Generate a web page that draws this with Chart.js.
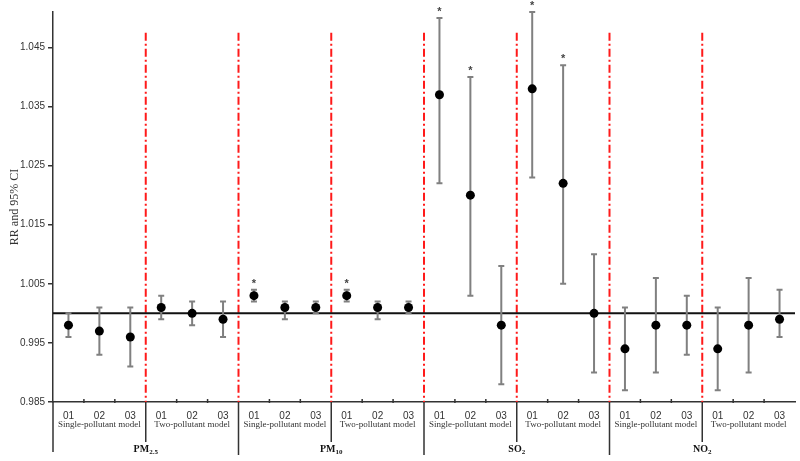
<!DOCTYPE html>
<html>
<head>
<meta charset="utf-8">
<script src="https://cdn.jsdelivr.net/npm/chart.js@4/dist/chart.umd.min.js"></script>
<style>
  html, body { margin: 0; padding: 0; background: #fff; }
  #wrap { width: 800px; height: 461px; }
</style>
</head>
<body>
<div id="wrap"><canvas id="rrChart" width="800" height="461"></canvas></div>
<script>
// lag labels, models and pollutants (x axis levels)
const lags = ["01", "02", "03"];
const models = ["Single-pollutant model", "Two-pollutant model"];
const pollutantNames = ["PM", "PM", "SO", "NO"];
const pollutantSubs = ["2.5", "10", "2", "2"];

// RR estimates and 95% CI (PM2.5, PM10, SO2, NO2; single then two-pollutant)
const rr = [
  0.998, 0.997, 0.996, 1.001, 1.000, 0.999,
  1.003, 1.001, 1.001, 1.003, 1.001, 1.001,
  1.037, 1.020, 0.998, 1.038, 1.022, 1.000,
  0.994, 0.998, 0.998, 0.994, 0.998, 0.999
];
const lower = [
  0.996, 0.993, 0.991, 0.999, 0.998, 0.996,
  1.002, 0.999, 1.000, 1.002, 0.999, 1.000,
  1.022, 1.003, 0.988, 1.023, 1.005, 0.990,
  0.987, 0.990, 0.993, 0.987, 0.990, 0.996
];
const upper = [
  1.000, 1.001, 1.001, 1.003, 1.002, 1.002,
  1.004, 1.002, 1.002, 1.004, 1.002, 1.002,
  1.050, 1.040, 1.008, 1.051, 1.042, 1.010,
  1.001, 1.006, 1.003, 1.001, 1.006, 1.004
];
const significant = [
  0, 0, 0, 0, 0, 0,
  1, 0, 0, 1, 0, 0,
  1, 1, 0, 1, 1, 0,
  0, 0, 0, 0, 0, 0
];

const yTicks = [0.985, 0.995, 1.005, 1.015, 1.025, 1.035, 1.045];
const refValue = 1.0;
const redLineTop = 1.0475;

const labels = [];
pollutantNames.forEach(() => models.forEach(() => lags.forEach((l) => labels.push(l))));

const sansFont = "'Liberation Sans', Arial, sans-serif";
const serifFont = "'Liberation Serif', 'Times New Roman', serif";

function boundaryX(xs, i) {
  // pixel x of the boundary before category i
  if (i <= 0) return xs.left;
  if (i >= labels.length) return xs.right;
  return (xs.getPixelForValue(i - 1) + xs.getPixelForValue(i)) / 2;
}

const overlayPlugin = {
  id: "overlay",
  beforeDatasetsDraw(chart) {
    const { ctx, chartArea, scales } = chart;
    const xs = scales.x, ys = scales.y;
    ctx.save();

    // red dash-dot separators between groups
    ctx.strokeStyle = "#ff1a1a";
    ctx.lineWidth = 2;
    ctx.setLineDash([8, 3, 2, 3]);
    for (let g = 1; g < labels.length / 3; g++) {
      const x = boundaryX(xs, g * 3);
      ctx.beginPath();
      ctx.moveTo(x, ys.getPixelForValue(redLineTop));
      ctx.lineTo(x, chartArea.bottom);
      ctx.stroke();
    }
    ctx.setLineDash([]);

    // reference line at RR = 1
    const yRef = ys.getPixelForValue(refValue);
    ctx.strokeStyle = "#111";
    ctx.lineWidth = 2;
    ctx.beginPath();
    ctx.moveTo(chartArea.left, yRef);
    ctx.lineTo(chartArea.right, yRef);
    ctx.stroke();

    // error bars
    ctx.strokeStyle = "#808080";
    ctx.lineWidth = 2;
    rr.forEach((v, i) => {
      const x = xs.getPixelForValue(i);
      const yl = ys.getPixelForValue(lower[i]);
      const yu = ys.getPixelForValue(upper[i]);
      ctx.beginPath();
      ctx.moveTo(x, yl); ctx.lineTo(x, yu);
      ctx.moveTo(x - 3, yl); ctx.lineTo(x + 3, yl);
      ctx.moveTo(x - 3, yu); ctx.lineTo(x + 3, yu);
      ctx.stroke();
      if (significant[i]) {
        ctx.fillStyle = "#444";
        ctx.font = "bold 11px " + sansFont;
        ctx.textAlign = "center";
        ctx.textBaseline = "alphabetic";
        ctx.fillText("*", x, yu - 3);
      }
    });
    ctx.restore();
  },
  afterDraw(chart) {
    const { ctx, chartArea, scales } = chart;
    const xs = scales.x;
    const base = chartArea.bottom;
    ctx.save();
    ctx.strokeStyle = "#333";
    ctx.lineWidth = 1.5;

    // small tick marks between categories
    ctx.beginPath();
    for (let i = 1; i < labels.length; i++) {
      if (i % 3 === 0) continue;
      const x = boundaryX(xs, i);
      ctx.moveTo(x, base - 3); ctx.lineTo(x, base + 1);
    }
    ctx.stroke();

    // y axis extension and group separators below axis
    ctx.beginPath();
    ctx.moveTo(chartArea.left, base); ctx.lineTo(chartArea.left, base + 50);
    for (let g = 1; g < labels.length / 3; g++) {
      const x = boundaryX(xs, g * 3);
      ctx.moveTo(x, base);
      ctx.lineTo(x, base + (g % 2 === 0 ? 53 : 40));
    }
    ctx.stroke();

    // model labels
    ctx.fillStyle = "#333";
    ctx.textAlign = "center";
    ctx.textBaseline = "middle";
    ctx.font = "9px " + serifFont;
    for (let g = 0; g < labels.length / 3; g++) {
      const x = (boundaryX(xs, g * 3) + boundaryX(xs, g * 3 + 3)) / 2;
      ctx.fillText(models[g % 2], x, base + 23);
    }

    // pollutant labels with subscripts
    pollutantNames.forEach((name, p) => {
      const x = (boundaryX(xs, p * 6) + boundaryX(xs, p * 6 + 6)) / 2;
      const y = base + 47;
      ctx.font = "bold 10px " + serifFont;
      const w1 = ctx.measureText(name).width;
      ctx.font = "bold 7px " + serifFont;
      const w2 = ctx.measureText(pollutantSubs[p]).width;
      const start = x - (w1 + w2) / 2;
      ctx.textAlign = "left";
      ctx.textBaseline = "alphabetic";
      ctx.fillStyle = "#111";
      ctx.font = "bold 10px " + serifFont;
      ctx.fillText(name, start, y + 3);
      ctx.font = "bold 7px " + serifFont;
      ctx.fillText(pollutantSubs[p], start + w1, y + 5);
    });
    ctx.restore();
  }
};

new Chart(document.getElementById("rrChart"), {
  type: "line",
  data: {
    labels,
    datasets: [
      {
        label: "RR",
        data: rr,
        showLine: false,
        pointRadius: 4.5,
        pointHoverRadius: 4.5,
        pointBackgroundColor: "#000",
        pointBorderColor: "#000",
        pointBorderWidth: 0,
      },
    ],
  },
  options: {
    responsive: false,
    animation: false,
    layout: { padding: { top: 12, right: 5, left: 0, bottom: 0 } },
    plugins: {
      legend: { display: false },
      tooltip: { enabled: false },
    },
    scales: {
      x: {
        type: "category",
        offset: true,
        grid: { display: false },
        border: { display: true, color: "#333", width: 1.5 },
        ticks: {
          autoSkip: false,
          maxRotation: 0,
          padding: 0,
          color: "#333",
          font: { family: sansFont, size: 10 },
        },
        afterFit(scale) { scale.height = 59; },
      },
      y: {
        min: 0.985,
        max: 1.051,
        afterBuildTicks(scale) { scale.ticks = yTicks.map((v) => ({ value: v })); },
        grid: { drawOnChartArea: false, drawTicks: true, tickLength: 5, color: "#333", lineWidth: 1.5 },
        border: { display: true, color: "#333", width: 1.5 },
        ticks: {
          color: "#333",
          padding: 3,
          font: { family: sansFont, size: 10 },
          callback: (v) => Number(v).toFixed(3),
        },
        title: {
          display: true,
          text: "RR and 95% CI",
          color: "#333",
          padding: { top: 8, bottom: 0 },
          font: { family: serifFont, size: 12 },
        },
        afterFit(scale) { scale.width = 53; },
      },
    },
  },
  plugins: [overlayPlugin],
});
</script>
</body>
</html>
